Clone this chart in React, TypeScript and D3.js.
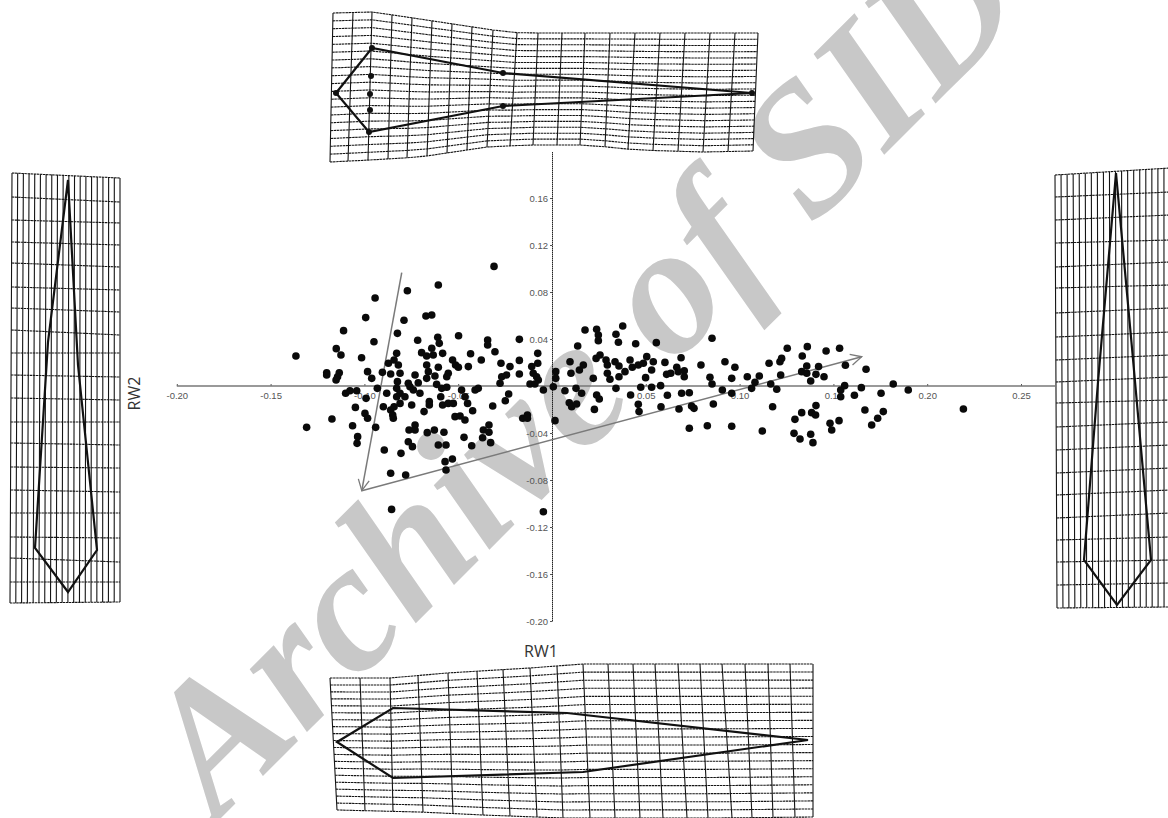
import * as d3 from 'd3';
import { useRef, useEffect } from 'react';

// relative warp scores
const rw1 = [
  -0.1365,-0.1308,-0.1201,-0.1201,-0.1173,-0.1150,-0.1125,-0.1134,-0.1143,-0.1151,-0.1111,-0.1100,-0.1077,-0.1041,-0.1048,-0.1063,-0.1036,-0.1039,-0.0997,-0.0983,
  -0.0993,-0.0943,-0.0949,-0.1015,-0.0983,-0.0961,-0.0991,-0.0931,-0.0940,-0.0904,-0.0899,-0.0894,-0.0881,-0.0872,-0.0860,-0.0860,-0.0849,-0.0846,-0.0842,-0.0860,
  -0.0855,-0.0824,-0.0828,-0.0842,-0.0819,-0.0810,-0.0824,-0.0828,-0.0810,-0.0828,-0.0810,-0.0784,-0.0771,-0.0789,-0.0805,-0.0780,-0.0766,-0.0757,-0.0748,-0.0730,
  -0.0713,-0.0739,-0.0704,-0.0682,-0.0762,-0.0730,-0.0730,-0.0766,-0.0744,-0.0716,-0.0695,-0.0672,-0.0641,-0.0641,-0.0668,-0.0633,-0.0668,-0.0659,-0.0668,-0.0624,
  -0.0606,-0.0606,-0.0609,-0.0601,-0.0583,-0.0615,-0.0588,-0.0561,-0.0593,-0.0583,-0.0553,-0.0526,-0.0654,-0.0654,-0.0665,-0.0627,-0.0576,-0.0606,-0.0565,-0.0570,
  -0.0531,-0.0565,-0.0530,-0.0514,-0.0499,-0.0553,-0.0561,-0.0498,-0.0482,-0.0464,-0.0450,-0.0423,-0.0517,-0.0490,-0.0464,-0.0469,-0.0428,-0.0446,-0.0434,-0.0377,
  -0.0410,-0.0393,-0.0316,-0.0366,-0.0336,-0.0336,-0.0370,-0.0327,-0.0343,-0.0343,-0.0304,-0.0272,-0.0268,-0.0277,-0.0242,-0.0224,-0.0231,-0.0249,-0.0174,-0.0174,
  -0.0174,-0.0156,-0.0131,-0.0131,-0.0108,-0.0100,-0.0082,-0.0073,-0.0117,-0.0091,-0.0076,-0.0076,-0.0046,-0.0046,-0.0309,0.0007,0.0020,0.0020,0.0016,
  0.0069,0.0096,0.0101,0.0128,0.0137,0.0146,0.0167,0.0158,0.0092,0.0105,0.0131,0.0176,0.0220,0.0226,0.0235,0.0256,0.0238,0.0247,0.0247,0.0238,
  0.0252,0.0288,0.0295,0.0295,0.0309,0.0341,0.0354,0.0377,0.0336,0.0357,0.0357,0.0341,0.0389,0.0416,0.0428,0.0419,0.0446,0.0460,0.0487,0.0505,
  0.0499,0.0473,0.0460,0.0464,0.0531,0.0540,0.0531,0.0556,0.0579,0.0581,0.0602,0.0611,0.0633,0.0615,0.0665,0.0673,0.0688,0.0705,0.0705,0.0691,
  0.0732,0.0677,0.0744,0.0757,0.0732,0.0794,0.0828,0.0842,0.0853,0.0853,0.0860,0.0908,0.0922,0.0958,0.0975,0.0958,0.0958,0.1041,0.1105,0.1082,
  0.1064,0.1121,0.1157,0.1166,0.1198,0.1176,0.1215,0.1224,0.1219,0.1254,0.1334,0.1361,0.1295,0.1331,0.1290,0.1322,0.1331,0.1358,0.1358,0.1379,
  0.1407,0.1421,0.1450,0.1461,0.1533,0.1564,0.1674,0.1384,0.1405,0.1407,0.1379,0.1391,0.1482,0.1491,0.1530,0.1539,0.1539,0.1560,0.1612,0.1649,
  0.1668,0.1754,0.1766,0.1736,0.1704,0.1819,0.1899,0.2193,
];
const rw2 = [
  0.0255,-0.0352,0.0113,0.0094,-0.0281,0.0318,0.0264,0.0113,0.0079,0.0051,0.0471,-0.0062,-0.0040,-0.0040,-0.0182,-0.0338,-0.0431,-0.0488,-0.0233,-0.0275,
  0.0582,0.0749,0.0377,0.0241,0.0122,0.0065,-0.0105,-0.0020,-0.0352,0.0116,-0.0176,-0.0545,-0.0062,0.0193,0.0102,-0.0204,-0.0247,-0.0275,-0.0176,-0.0743,
  -0.1050,0.0448,0.0278,0.0221,0.0179,0.0108,0.0037,-0.0020,-0.0062,-0.0091,-0.0148,-0.0091,0.0811,0.0559,-0.0573,-0.0757,0.0023,-0.0006,-0.0162,0.0094,
  0.0028,-0.0034,-0.0062,-0.0218,-0.0374,-0.0332,-0.0374,-0.0474,-0.0516,0.0389,0.0284,0.0596,0.0604,0.0321,0.0255,0.0264,0.0179,0.0122,0.0065,0.0085,
  0.0159,0.0860,0.0414,0.0363,0.0278,0.0014,-0.0020,-0.0011,-0.0091,-0.0162,-0.0148,-0.0148,-0.0133,-0.0162,-0.0397,-0.0374,-0.0394,-0.0502,-0.0502,-0.0644,
  -0.0621,-0.0715,0.0221,0.0179,0.0159,0.0108,0.0079,0.0428,-0.0034,-0.0091,-0.0148,-0.0210,-0.0261,-0.0255,-0.0289,-0.0437,-0.0508,0.0165,0.0275,0.0221,
  -0.0034,-0.0020,-0.0170,-0.0374,-0.0332,-0.0394,-0.0440,-0.0482,0.0391,0.0349,0.0292,0.0193,0.0079,0.0023,0.0094,0.0165,-0.0068,-0.0125,0.0397,0.0218,
  0.0102,-0.0275,-0.0247,-0.0275,0.0165,0.0108,0.0079,0.0051,0.0017,0.0017,0.0278,0.0193,-0.0034,-0.1070,0.1018,-0.0006,0.0122,0.0065,-0.0295,
  -0.0040,0.0207,0.0108,-0.0020,0.0340,0.0136,0.0179,-0.0062,-0.0142,-0.0176,-0.0153,0.0477,0.0065,-0.0199,0.0235,0.0264,0.0482,0.0434,0.0386,-0.0077,
  -0.0111,0.0221,0.0179,0.0108,0.0057,0.0440,0.0372,0.0511,0.0207,0.0170,0.0079,-0.0020,0.0122,0.0221,0.0159,-0.0077,0.0360,0.0179,0.0193,0.0250,
  0.0071,-0.0011,-0.0156,-0.0218,-0.0011,0.0207,0.0136,0.0369,0.0003,-0.0176,0.0201,0.0099,0.0108,-0.0079,0.0159,0.0122,0.0241,0.0130,0.0079,-0.0062,
  -0.0057,-0.0196,-0.0170,-0.0190,-0.0360,0.0179,-0.0338,0.0074,0.0017,0.0406,-0.0153,-0.0034,0.0207,0.0065,0.0159,-0.0062,-0.0343,0.0079,0.0085,0.0031,
  -0.0020,-0.0383,0.0193,0.0017,-0.0028,-0.0176,0.0207,0.0235,0.0094,0.0321,0.0255,0.0335,-0.0284,-0.0227,-0.0403,-0.0451,0.0122,0.0170,0.0108,0.0043,
  0.0099,0.0165,0.0079,0.0298,0.0321,0.0176,0.0142,-0.0227,-0.0247,-0.0167,-0.0411,-0.0482,-0.0318,-0.0374,-0.0295,-0.0091,-0.0034,0.0003,-0.0079,-0.0014,
  -0.0204,-0.0062,-0.0218,-0.0275,-0.0332,0.0017,-0.0034,-0.0196,
];

const xTicks = [-0.2, -0.15, -0.1, -0.05, 0.05, 0.1, 0.15, 0.2, 0.25];
const yTicks = [-0.2, -0.16, -0.12, -0.08, -0.04, 0.04, 0.08, 0.12, 0.16];

// the two gray vectors, corner first
const vectorCorner = [-0.1014, -0.0891];
const vectorUp = [-0.0801, 0.0964];
const vectorRight = [0.1651, 0.0249];

// deformation grids: [along, across] in panel units
const topPanel = {
  vertical: false, origin: [330, 10], size: [430, 155],
  edgeA: [[3,3],[43,2],[83,8],[123,14],[163,20],[190,23],[428,23]],
  edgeB: [[0,152],[40,150],[90,147],[157,137],[197,135],[257,135],[307,140],[373,142],[424,141]],
  crossA: [3,23,42,62,82,102,122,142,163,187,208,232,255,280,305,330,355,380,405,428],
  crossB: [0,18,38,58,77,97,117,137,157,180,203,227,250,275,298,323,348,373,398,423],
  outline: [[6,83],[42,38],[173,63],[422,83],[173,96],[39,122]],
  dots: [[6,83],[42,38],[173,63],[422,83],[173,96],[39,122],[41,66],[40,84],[40,100]],
};
const bottomPanel = {
  vertical: false, origin: [330, 660], size: [490, 160],
  edgeA: [[0,18],[60,18],[117,13],[200,8],[253,4],[483,4]],
  edgeB: [[7,150],[90,152],[153,155],[233,158],[310,158],[390,158],[483,157]],
  crossA: [0,30,60,88,118,147,173,200,227,253,278,303,325,348,370,392,415,438,460,483],
  crossB: [7,35,63,93,123,153,180,207,233,260,285,310,333,357,378,402,422,443,465,483],
  outline: [[7,82],[63,48],[237,53],[478,80],[253,112],[63,118]],
  dots: [],
};
const leftPanel = {
  vertical: true, origin: [8, 170], size: [115, 440],
  edgeA: [[3,4],[433,2]],
  edgeB: [[8,112],[432,112]],
  crossA: [3,27,50,72,93,117,138,160,183,205,228,252,273,297,320,343,367,388,412,433],
  crossB: [8,32,53,75,97,120,142,165,183,207,230,252,275,298,322,343,368,392,412,432],
  outline: [[10,60],[195,70],[380,89],[422,60],[378,27],[172,40]],
  dots: [],
};
const rightPanel = {
  vertical: true, origin: [1050, 168], size: [120, 445],
  edgeA: [[7,5],[440,7]],
  edgeB: [[0,120],[439,120]],
  crossA: [7,29,52,75,99,120,145,169,192,214,235,259,282,305,327,350,372,394,417,440],
  crossB: [0,24,47,72,94,117,140,164,187,209,232,254,277,300,322,345,369,392,415,439],
  outline: [[5,66],[180,82],[392,101],[437,67],[392,34],[214,48]],
  dots: [],
};
const panels = [topPanel, bottomPanel, leftPanel, rightPanel];
const longLines = 20;

export default function App() {
  const ref = useRef<SVGSVGElement>(null);

  useEffect(() => {
    const svg = d3.select(ref.current);
    svg.selectAll('*').remove();

    const x = d3.scaleLinear().domain([-0.2, 0.2]).range([176.8, 927.2]);
    const y = d3.scaleLinear().domain([-0.2, 0.2]).range([621, 151]);

    // watermark sits behind everything
    svg.append('text')
      .attr('transform', 'translate(217,822) rotate(-45)')
      .attr('font-family', '"Liberation Serif", serif')
      .attr('font-style', 'italic')
      .attr('font-weight', 'bold')
      .attr('font-size', 185)
      .attr('fill', '#c8c8c8')
      .text('Archive of SID');

    // warp grids
    panels.forEach((p) => {
      const pu = d3.scaleLinear().domain([0, p.size[0]]).range([p.origin[0], p.origin[0] + p.size[0]]);
      const pv = d3.scaleLinear().domain([0, p.size[1]]).range([p.origin[1], p.origin[1] + p.size[1]]);
      // panel units to a pixel pair, swapped for the upright panels
      const project = ([along, across]: number[]): [number, number] =>
        p.vertical ? [pu(across), pv(along)] : [pu(along), pv(across)];

      const edgeA = d3.scaleLinear().domain(p.edgeA.map((d) => d[0])).range(p.edgeA.map((d) => d[1]));
      const edgeB = d3.scaleLinear().domain(p.edgeB.map((d) => d[0])).range(p.edgeB.map((d) => d[1]));
      const nodes = d3.range(longLines).map((k) => {
        const t = k / (longLines - 1);
        return p.crossA.map((a, i) => {
          const b = p.crossB[i];
          return project([a + (b - a) * t, edgeA(a) + (edgeB(b) - edgeA(a)) * t]);
        });
      });

      const line = d3.line();
      const closed = d3.line().curve(d3.curveLinearClosed);
      const g = svg.append('g').attr('fill', 'none').attr('stroke', '#141414').attr('stroke-width', 1.1);
      nodes.forEach((row) => {
        g.append('path').attr('d', line(row)).attr('stroke-dasharray', p.vertical ? null : '2.5 0.6');
      });
      p.crossA.forEach((_, i) => {
        g.append('path').attr('d', line(nodes.map((row) => row[i]))).attr('stroke-dasharray', p.vertical ? '2.5 0.6' : null);
      });

      svg.append('path')
        .attr('d', closed(p.outline.map(project)))
        .attr('fill', 'none')
        .attr('stroke', '#111')
        .attr('stroke-width', 2.2);

      svg.append('g').selectAll('circle').data(p.dots).join('circle')
        .attr('cx', (d) => project(d)[0])
        .attr('cy', (d) => project(d)[1])
        .attr('r', 3)
        .attr('fill', '#111');
    });

    // axes
    const xAxis = svg.append('g')
      .attr('transform', `translate(0,${y(0)})`)
      .call(d3.axisBottom(x).tickValues(xTicks).tickFormat((d) => (+d).toFixed(2)).tickSizeInner(-2).tickSizeOuter(0).tickPadding(6));
    xAxis.select('.domain').remove();
    xAxis.append('line')
      .attr('x1', x(-0.2)).attr('x2', 1055)
      .attr('stroke', '#777').attr('stroke-width', 1.4);

    const yAxis = svg.append('g')
      .attr('transform', `translate(${x(0)},0)`)
      .call(d3.axisLeft(y).tickValues(yTicks).tickFormat((d) => (+d).toFixed(2)).tickSizeInner(2).tickSizeOuter(0).tickPadding(2));
    yAxis.select('.domain').attr('stroke', '#222').attr('stroke-dasharray', '1.5 0.5');

    [xAxis, yAxis].forEach((a) => {
      a.selectAll('text')
        .attr('font-family', '"Liberation Sans", sans-serif')
        .attr('font-size', 9.5)
        .attr('fill', '#555');
      a.selectAll('.tick line').attr('stroke', '#555');
    });

    // arrows
    const defs = svg.append('defs');
    defs.append('marker')
      .attr('id', 'vee')
      .attr('markerUnits', 'userSpaceOnUse')
      .attr('markerWidth', 16).attr('markerHeight', 16)
      .attr('refX', 12).attr('refY', 8)
      .attr('orient', 'auto')
      .append('path')
      .attr('d', 'M1,2.5L12,8L1,13.5')
      .attr('fill', 'none')
      .attr('stroke', '#7a7a7a')
      .attr('stroke-width', 1.3);

    const vec = svg.append('g').attr('stroke', '#7a7a7a').attr('stroke-width', 1.5).attr('fill', 'none');
    vec.append('line')
      .attr('x1', x(vectorUp[0])).attr('y1', y(vectorUp[1]))
      .attr('x2', x(vectorCorner[0])).attr('y2', y(vectorCorner[1]))
      .attr('marker-end', 'url(#vee)');
    vec.append('line')
      .attr('x1', x(vectorCorner[0])).attr('y1', y(vectorCorner[1]))
      .attr('x2', x(vectorRight[0])).attr('y2', y(vectorRight[1]))
      .attr('marker-end', 'url(#vee)');

    // scores
    svg.append('g').selectAll('circle').data(rw1).join('circle')
      .attr('cx', (d) => x(d))
      .attr('cy', (_, i) => y(rw2[i]))
      .attr('r', 3.8)
      .attr('fill', '#0a0a0a');

    svg.append('text')
      .attr('x', 541).attr('y', 657)
      .attr('text-anchor', 'middle')
      .attr('font-family', '"Open Sans", sans-serif')
      .attr('font-size', 16)
      .attr('fill', '#333')
      .text('RW1');
    svg.append('text')
      .attr('transform', 'translate(140,393.5) rotate(-90)')
      .attr('text-anchor', 'middle')
      .attr('font-family', '"Open Sans", sans-serif')
      .attr('font-size', 16)
      .attr('fill', '#333')
      .text('RW2');
  }, []);

  return (
    <svg ref={ref} width={1168} height={818} style={{ position: 'absolute', left: 0, top: 0, background: '#fff' }}></svg>
  );
}
